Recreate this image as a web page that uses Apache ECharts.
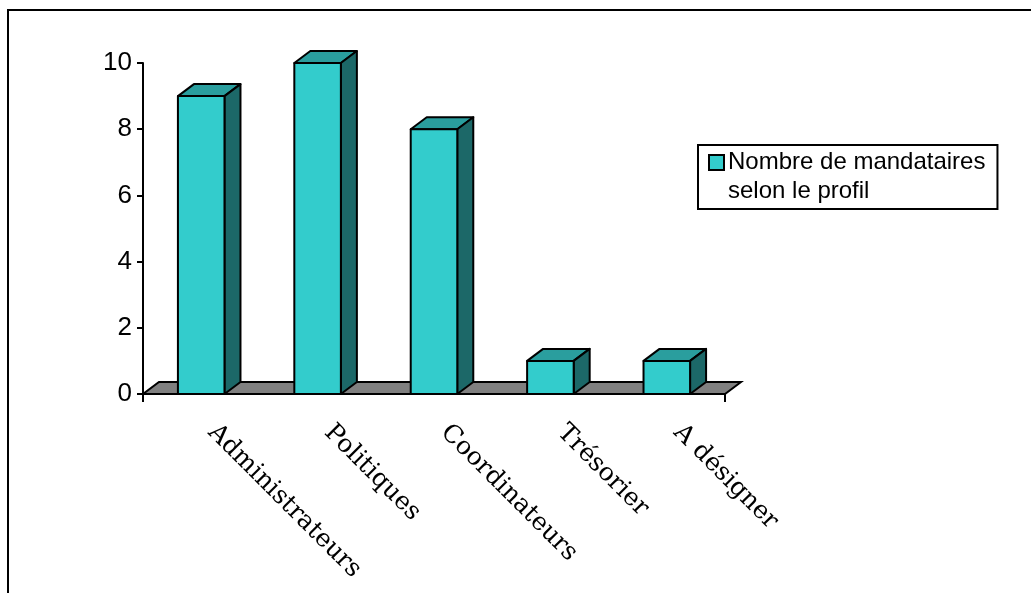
<!DOCTYPE html>
<html>
<head>
<meta charset="utf-8">
<script src="https://cdn.jsdelivr.net/npm/echarts@6/dist/echarts.min.js"></script>
<style>
  html, body { margin: 0; padding: 0; background: #fff; }
  #chart { width: 1031px; height: 593px; }
</style>
</head>
<body>
<div id="chart"></div>
<script>
// Profiles of the mandataires and how many there are of each
const categories = ['Administrateurs', 'Politiques', 'Coordinateurs', 'Trésorier', 'A désigner'];
const counts = [9, 10, 8, 1, 1];
const seriesName = 'Nombre de mandataires selon le profil';
const yMin = 0, yMax = 10, yStep = 2;

// depth of the pseudo-3D extrusion (pixels)
const DEPTH_X = 16, DEPTH_Y = -12;
const FRONT = '#33cccc', TOP = '#2a9e9e', SIDE = '#1c6868', FLOOR = '#808080';

const chart = echarts.init(document.getElementById('chart'), null, { renderer: 'canvas' });

// grey floor under the bars, spanning the whole category axis
function renderFloor(params, api) {
  const band = api.size([1, 0])[0];
  const first = api.coord([0, 0]);
  const last = api.coord([categories.length - 1, 0]);
  const xl = first[0] - band / 2, xr = last[0] + band / 2, yb = first[1];
  return {
    type: 'polygon',
    shape: { points: [[xl, yb], [xr, yb], [xr + DEPTH_X, yb + DEPTH_Y], [xl + DEPTH_X, yb + DEPTH_Y]] },
    style: { fill: FLOOR, stroke: '#000', lineWidth: 2 }
  };
}

// one box per category: front face, top face and right side
function renderBox(params, api) {
  const idx = api.value(0);
  const top = api.coord([idx, api.value(1)]);
  const base = api.coord([idx, 0]);
  const w = api.size([1, 0])[0] * 0.4;
  const x0 = top[0] - w / 2, x1 = top[0] + w / 2, yt = top[1], yb = base[1];
  const s = { stroke: '#000', lineWidth: 2, lineJoin: 'round' };
  return {
    type: 'group',
    children: [
      { type: 'polygon', shape: { points: [[x0, yt], [x1, yt], [x1 + DEPTH_X, yt + DEPTH_Y], [x0 + DEPTH_X, yt + DEPTH_Y]] },
        style: Object.assign({ fill: TOP }, s) },
      { type: 'polygon', shape: { points: [[x1, yt], [x1 + DEPTH_X, yt + DEPTH_Y], [x1 + DEPTH_X, yb + DEPTH_Y], [x1, yb]] },
        style: Object.assign({ fill: SIDE }, s) },
      { type: 'rect', shape: { x: x0, y: yt, width: w, height: yb - yt },
        style: Object.assign({ fill: FRONT }, s) }
    ]
  };
}

const option = {
  animation: false,
  backgroundColor: '#fff',
  graphic: [{
    type: 'polyline',
    shape: { points: [[8, 593], [8, 10], [1031, 10]] },
    style: { stroke: '#000', lineWidth: 2, fill: null },
    silent: true
  }],
  grid: { left: 143, right: 306, top: 63, bottom: 199, containLabel: false },
  legend: {
    left: 698, top: 145,
    orient: 'vertical',
    itemWidth: 0, itemHeight: 0, itemGap: 0,
    padding: [3, 12, 3, 7],
    borderColor: '#000', borderWidth: 2,
    selectedMode: false,
    data: [{ name: seriesName, icon: 'rect' }],
    formatter: function () {
      return '{sq| }{gap| }{t|Nombre de mandataires}\n{sp| }{t|selon le profil}';
    },
    textStyle: {
      fontFamily: 'Liberation Sans, Arial, sans-serif',
      fontSize: 24, color: '#000', lineHeight: 29,
      rich: {
        sq: { width: 13, height: 13, backgroundColor: FRONT, borderColor: '#000', borderWidth: 2, fontSize: 1, lineHeight: 29 },
        gap: { width: 5, fontSize: 1, lineHeight: 29 },
        sp: { width: 18, fontSize: 1, lineHeight: 29 },
        t: { fontFamily: 'Liberation Sans, Arial, sans-serif', fontSize: 24, color: '#000', lineHeight: 29 }
      }
    }
  },
  xAxis: {
    type: 'category',
    data: categories,
    boundaryGap: true,
    axisLine: { show: true, lineStyle: { color: '#000', width: 2 } },
    axisTick: { show: true, length: 8, interval: function (i) { return i === 0; }, lineStyle: { color: '#000', width: 2 } },
    axisLabel: {
      rotate: -45, margin: 24, interval: 0, padding: [0, 0, 0, 15],
      fontFamily: 'DejaVu Serif, serif', fontSize: 25, color: '#000'
    },
    splitLine: { show: false }
  },
  yAxis: {
    type: 'value',
    min: yMin, max: yMax, interval: yStep,
    axisLine: { show: true, lineStyle: { color: '#000', width: 2 } },
    axisTick: { show: true, length: 6, lineStyle: { color: '#000', width: 2 } },
    axisLabel: { margin: 11, fontFamily: 'Liberation Sans, Arial, sans-serif', fontSize: 26, color: '#000' },
    splitLine: { show: false }
  },
  series: [
    {
      name: 'floor',
      type: 'custom',
      renderItem: renderFloor,
      data: [[0, 0]],
      encode: { x: 0, y: 1 },
      z: 1,
      silent: true,
      legendHoverLink: false
    },
    {
      name: seriesName,
      type: 'custom',
      renderItem: renderBox,
      data: counts.map(function (v, i) { return [i, v]; }),
      encode: { x: 0, y: 1 },
      itemStyle: { color: FRONT },
      z: 3
    }
  ]
};

chart.setOption(option);
</script>
</body>
</html>
